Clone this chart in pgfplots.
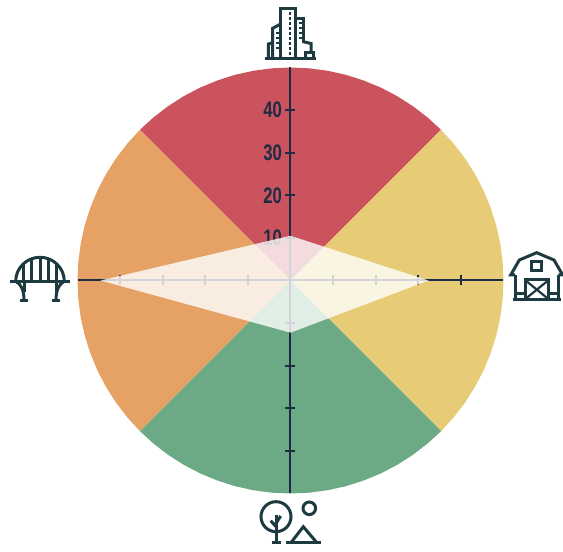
\documentclass[border=0pt]{standalone}
\usepackage{fontspec}
\setmainfont{Liberation Sans}
\usepackage{pgfplots}
\pgfplotsset{compat=1.18}
\definecolor{cred}{HTML}{CB535D}
\definecolor{corange}{HTML}{E5A264}
\definecolor{cyellow}{HTML}{E7CB77}
\definecolor{cgreen}{HTML}{6BAA85}
\definecolor{caxis}{HTML}{1F2B45}
\definecolor{cicon}{HTML}{1D3A40}
\newcommand{\tl}[1]{\scalebox{.74}[1]{\fontsize{22.5}{22.5}\selectfont\textbf{#1}}}
\begin{document}
\begin{tikzpicture}
\path[use as bounding box] (0,0) rectangle (563pt,552pt);
\begin{axis}[
  at={(77.5pt,58.5pt)}, anchor=south west,
  scale only axis, width=426pt, height=426pt,
  xmin=-50, xmax=50, ymin=-50, ymax=50,
  axis on top,
  clip=false,
  axis lines=center,
  axis line style={caxis, line width=2pt, -},
  xtick={-40,-30,-20,-10,10,20,30,40},
  ytick={-40,-30,-20,-10,10,20,30,40},
  xticklabels={,,,,,,,},
  yticklabels={,,,,\tl{10},\tl{20},\tl{30},\tl{40}},
  tick align=center,
  major tick length=10pt,
  tick style={caxis, line width=2pt},
  yticklabel style={text=caxis, inner sep=0pt, anchor=east, xshift=-3.5pt},
]
% top
\addplot[fill=cred, draw=none] coordinates {(0,0)(35.36,35.36)(32.14,38.30)(28.68,40.96)(25.00,43.30)(21.13,45.32)(17.10,46.98)(12.94,48.30)(8.68,49.24)(4.36,49.81)(0,50)(-4.36,49.81)(-8.68,49.24)(-12.94,48.30)(-17.10,46.98)(-21.13,45.32)(-25.00,43.30)(-28.68,40.96)(-32.14,38.30)(-35.36,35.36)} --cycle;
% right
\addplot[fill=cyellow, draw=none] coordinates {(0,0)(35.36,-35.36)(38.30,-32.14)(40.96,-28.68)(43.30,-25.00)(45.32,-21.13)(46.98,-17.10)(48.30,-12.94)(49.24,-8.68)(49.81,-4.36)(50,0)(49.81,4.36)(49.24,8.68)(48.30,12.94)(46.98,17.10)(45.32,21.13)(43.30,25.00)(40.96,28.68)(38.30,32.14)(35.36,35.36)} --cycle;
% bottom
\addplot[fill=cgreen, draw=none] coordinates {(0,0)(35.36,-35.36)(32.14,-38.30)(28.68,-40.96)(25.00,-43.30)(21.13,-45.32)(17.10,-46.98)(12.94,-48.30)(8.68,-49.24)(4.36,-49.81)(0,-50)(-4.36,-49.81)(-8.68,-49.24)(-12.94,-48.30)(-17.10,-46.98)(-21.13,-45.32)(-25.00,-43.30)(-28.68,-40.96)(-32.14,-38.30)(-35.36,-35.36)} --cycle;
% left
\addplot[fill=corange, draw=none] coordinates {(0,0)(-35.36,-35.36)(-38.30,-32.14)(-40.96,-28.68)(-43.30,-25.00)(-45.32,-21.13)(-46.98,-17.10)(-48.30,-12.94)(-49.24,-8.68)(-49.81,-4.36)(-50,0)(-49.81,4.36)(-49.24,8.68)(-48.30,12.94)(-46.98,17.10)(-45.32,21.13)(-43.30,25.00)(-40.96,28.68)(-38.30,32.14)(-35.36,35.36)} --cycle;
\end{axis}
\begin{axis}[
  at={(77.5pt,58.5pt)}, anchor=south west,
  scale only axis, width=426pt, height=426pt,
  xmin=-50, xmax=50, ymin=-50, ymax=50,
  hide axis,
]
\addplot[fill=white, fill opacity=.8, draw=none] coordinates {(0,10.5)(32.4,0)(0,-12.25)(-44.6,0)} --cycle;
\end{axis}
\begin{scope}[x=1pt,y=-1pt,yshift=552pt,cicon,line width=3pt,line join=miter,line cap=butt]
% building
\draw (265,58.3)--(316,58.3);
\draw (280.7,58)--(280.7,8.3)--(295,8.3)--(295,58);
\draw (295,18.3)--(303.3,18.3)--(303.3,43);
\draw (303.3,41.7)--(311,43.5)--(311,52.7);
\draw (305,58)--(305,52.7)--(313.3,52.7)--(313.3,58);
\draw (280.7,24)--(272.7,28.3)--(272.7,58);
\draw (272.7,42.7)--(268.3,44)--(268.3,58);
\draw[line width=2pt,dash pattern=on 3pt off 2pt] (290,12)--(290,55);
\draw[line width=1.8pt] (276,33)--(280,33) (276,38)--(280,38) (276,43)--(280,43) (276,48)--(280,48);
\draw[line width=1.8pt] (298.5,23)--(303,23) (298.5,28)--(303,28) (298.5,33)--(303,33) (298.5,38)--(303,38);
% bridge
\draw (10,281.3)--(70,281.3);
\draw (15.7,281.3) arc[start angle=180,end angle=360,x radius=24.3,y radius=24];
\draw (23.3,263.5)--(23.3,281) (31.7,258.8)--(31.7,281) (40,257.3)--(40,281) (48.3,258.8)--(48.3,281) (56.7,263.5)--(56.7,281);
\draw (15.7,281.3) .. controls (21,284) and (24,290) .. (24,300);
\draw (64.3,281.3) .. controls (59,284) and (56,290) .. (56,300);
\draw (24,281)--(24,292) (56,281)--(56,292);
\draw (20,300.3)--(27.7,300.3) (52.3,300.3)--(60,300.3);
% barn
\draw (515,275)--(510.7,275)--(519.3,260)--(536.7,252.7)--(554,260)--(562.7,275)--(558.3,275);
\draw (515,275)--(515,299.5) (558.3,275)--(558.3,299.5);
\draw (512.7,299.3)--(560.7,299.3);
\draw (531.7,261.7) rectangle (541.7,271);
\draw (525,280) rectangle (548.7,299.3);
\draw[line width=2.2pt] (525,280)--(548.7,299.3) (548.7,280)--(525,299.3);
\draw (515,293.3)--(525,293.3) (548.7,293.3)--(558.3,293.3);
% tree
\draw (276,516.7) circle[radius=15];
\draw (276,515)--(276,541.7);
\draw (271.7,542.3)--(280.7,542.3);
\draw (270.7,520.7)--(276,526.7) (280.7,516)--(276,523.3);
% sun, mountain
\draw (309.3,508.3) circle[radius=6.3];
\draw (286,542.3)--(321,542.3);
\draw (291.7,541.7)--(303.3,526.7)--(316,541.7);
\end{scope}
\end{tikzpicture}
\end{document}
